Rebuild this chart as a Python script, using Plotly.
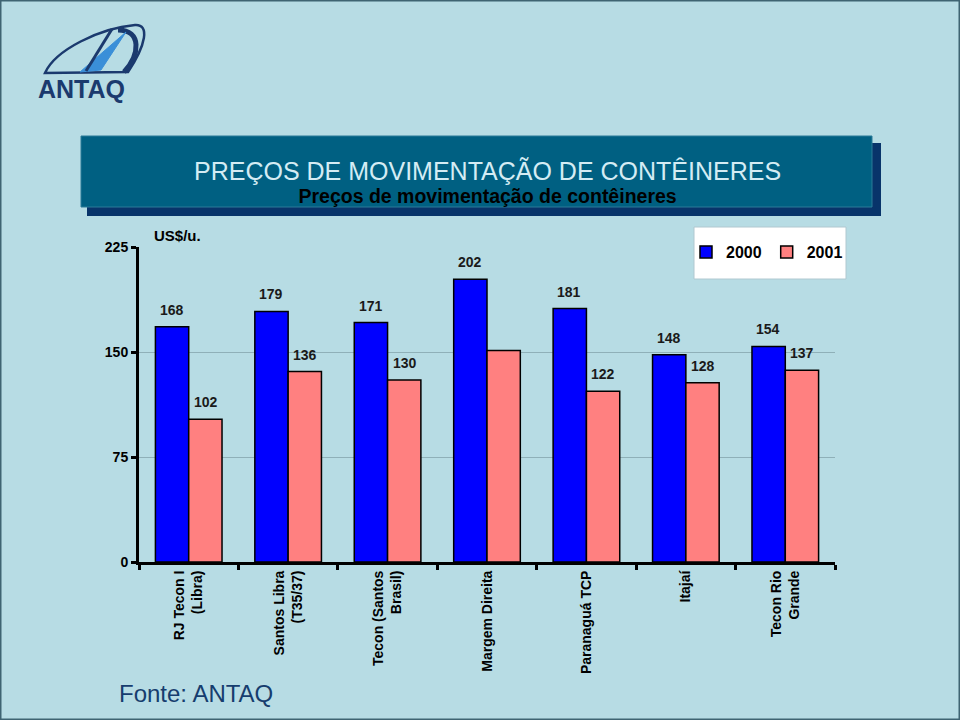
import plotly.graph_objects as go

# ---------------- data ----------------
categories = ["RJ Tecon I<br>(Libra)", "Santos Libra<br>(T35/37)", "Tecon (Santos<br>Brasil)",
              "Margem Direita", "Paranaguá TCP", "Itajaí", "Tecon Rio<br>Grande"]
values_2000 = [168, 179, 171, 202, 181, 148, 154]
values_2001 = [102, 136, 130, 151, 122, 128, 137]
labels_2000 = ["168", "179", "171", "202", "181", "148", "154"]
labels_2001 = ["102", "136", "130", None, "122", "128", "137"]
y_ticks = [0, 75, 150, 225]

# ---------------- layout geometry helpers ----------------
W, H = 960, 720
L, R, T, B = 139, 125, 247, 158
PW, PH = W - L - R, H - T - B


def px(x):
    return (x - L) / PW


def py(y):
    return (H - B - y) / PH


def path(points_cmds):
    out = []
    for item in points_cmds:
        if isinstance(item, str):
            out.append(item)
        else:
            out.append(f"{px(item[0]):.5f},{py(item[1]):.5f}")
    return " ".join(out)


BG = "#b7dce4"
BLUE = "#0000ff"
PINK = "#ff8080"
NAVY = "#1b3a6e"
FONT = "Liberation Sans, Arial, sans-serif"

fig = go.Figure()
fig.add_trace(go.Bar(x=categories, y=values_2000, name="2000",
                     marker=dict(color=BLUE, line=dict(color="#000000", width=1.5))))
fig.add_trace(go.Bar(x=categories, y=values_2001, name="2001",
                     marker=dict(color=PINK, line=dict(color="#000000", width=1.5))))

annotations = []
for series, labels, shift in ((values_2000, labels_2000, -17), (values_2001, labels_2001, 17)):
    for cat, v, lab in zip(categories, series, labels):
        if lab is None:
            continue
        annotations.append(dict(x=cat, y=v, text=lab, showarrow=False, xshift=shift,
                                yshift=17, yanchor="middle",
                                font=dict(family=FONT, size=14, color="#1a1a1a", weight="bold")))

# unit label
annotations.append(dict(x=px(152), y=py(236), xref="paper", yref="paper", text="US$/u.",
                        showarrow=False, xanchor="left", yanchor="middle",
                        font=dict(family=FONT, size=15, color="#000000", weight="bold")))
# title + subtitle (one text block)
title_html = ("<span style='font-size:25px;color:#d4ecf4'>PREÇOS DE MOVIMENTAÇÃO DE CONTÊINERES</span>"
              "<br><span style='font-size:19.5px;font-weight:bold;color:#000000'>"
              "Preços de movimentação de contêineres</span>")
annotations.append(dict(x=px(487), y=py(182), xref="paper", yref="paper",
                        text=title_html, showarrow=False, align="center",
                        xanchor="center", yanchor="middle",
                        font=dict(family=FONT, size=18, color="#000000")))
# source
annotations.append(dict(x=px(117), y=py(693), xref="paper", yref="paper", text="Fonte: ANTAQ",
                        showarrow=False, xanchor="left", yanchor="middle",
                        font=dict(family=FONT, size=24, color="#163d6e")))
# logo text
annotations.append(dict(x=px(81), y=py(89), xref="paper", yref="paper", text="ANTAQ",
                        showarrow=False, xanchor="center", yanchor="middle",
                        font=dict(family=FONT, size=25, color=NAVY, weight="bold")))

shapes = []
# title box shadow + box
shapes.append(dict(type="rect", xref="paper", yref="paper", x0=px(87), x1=px(881), y0=py(216), y1=py(143),
                   fillcolor="#08346a", line=dict(width=0), layer="below"))
shapes.append(dict(type="rect", xref="paper", yref="paper", x0=px(81), x1=px(872), y0=py(207), y1=py(136),
                   fillcolor="#006082", line=dict(color="#2a7a98", width=1), layer="below"))
# legend box
shapes.append(dict(type="rect", xref="paper", yref="paper", x0=px(694), x1=px(846), y0=py(279), y1=py(227),
                   fillcolor="#ffffff", line=dict(color="#b0c8d0", width=1), layer="above"))
# logo
shapes.append(dict(type="path", xref="paper", yref="paper",
                   path=path(["M", (45, 73), "C", (55, 50), (100, 28), (135, 25), "C", (150, 24),
                              (146, 45), (128, 72), "Z"]),
                   line=dict(color=NAVY, width=2.5), fillcolor="rgba(0,0,0,0)"))
shapes.append(dict(type="path", xref="paper", yref="paper",
                   path=path(["M", (118, 30), "C", (142, 30), (140, 55), (124, 72)]),
                   line=dict(color=NAVY, width=5)))
shapes.append(dict(type="path", xref="paper", yref="paper",
                   path=path(["M", (80, 72), "L", (126, 32), "L", (101, 70), "Z"]),
                   line=dict(color="#3a8fd8", width=1), fillcolor="#3a8fd8"))
shapes.append(dict(type="path", xref="paper", yref="paper",
                   path=path(["M", (86, 71), "L", (112, 29)]),
                   line=dict(color=NAVY, width=3)))
# outer frame
shapes.append(dict(type="rect", xref="paper", yref="paper", x0=px(0), x1=px(960), y0=py(720), y1=py(0),
                   line=dict(color="#3f6472", width=3), fillcolor="rgba(0,0,0,0)"))

fig.update_layout(
    width=W, height=H,
    margin=dict(l=L, r=R, t=T, b=B),
    paper_bgcolor=BG, plot_bgcolor=BG,
    barmode="group", bargap=0.33, bargroupgap=0,
    font=dict(family=FONT, color="#000000"),
    showlegend=True,
    legend=dict(orientation="h", x=px(686), y=py(235), xanchor="left", yanchor="top",
                bgcolor="rgba(0,0,0,0)", borderwidth=0,
                font=dict(family=FONT, size=16, color="#000000", weight="bold")),
    annotations=annotations,
    shapes=shapes,
    xaxis=dict(showline=True, linecolor="#000000", linewidth=3, ticks="outside", ticklen=5,
               tickwidth=3, tickcolor="#000000", tickson="boundaries", tickangle=-90,
               tickfont=dict(family=FONT, size=14, color="#000000", weight="bold"),
               showgrid=False, zeroline=False, fixedrange=True),
    yaxis=dict(range=[0, 225], tickvals=y_ticks, showline=True, linecolor="#000000", linewidth=3,
               ticks="outside", ticklen=5, tickwidth=3, tickcolor="#000000",
               tickfont=dict(family=FONT, size=14, color="#000000", weight="bold"),
               showgrid=True, gridcolor="#8fb0b8", gridwidth=1, zeroline=False),
)

fig.write_html("out.html", config={"displayModeBar": False},
               post_script="document.body.style.margin='0';document.body.style.background='" + BG + "';")
